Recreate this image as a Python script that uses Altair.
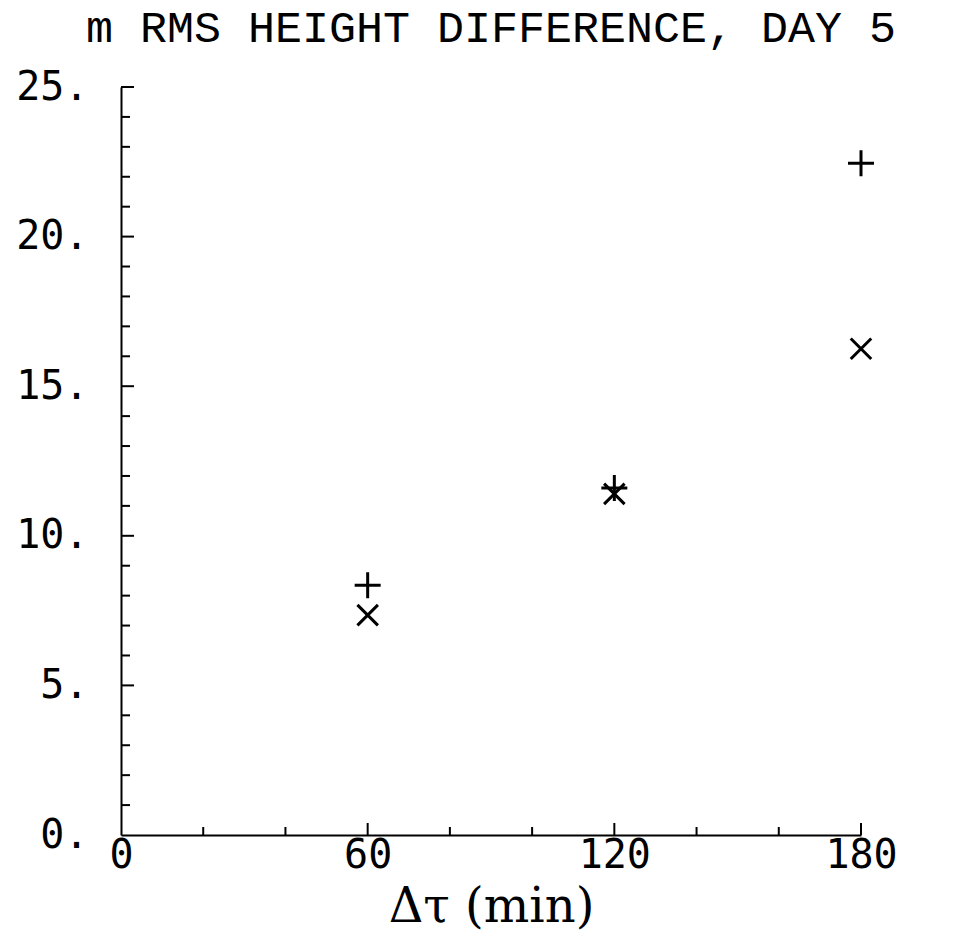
import altair as alt
import pandas as pd

# ---- data ----
dt_min = [60, 120, 180]
rms_plus = [8.35, 11.6, 22.45]
rms_cross = [7.35, 11.4, 16.25]
series_names = ["plus", "cross"]

x_label_values = [0, 60, 120, 180]
x_major_ticks = [60, 120, 180]
x_minor_ticks = [20, 40, 80, 100, 140, 160]
y_label_values = [0, 5, 10, 15, 20, 25]
y_major_ticks = [5, 10, 15, 20, 25]
y_minor_ticks = [1, 2, 3, 4, 6, 7, 8, 9, 11, 12, 13, 14, 16, 17, 18, 19, 21, 22, 23, 24]

TITLE = "m RMS HEIGHT DIFFERENCE, DAY 5"
X_TITLE = "Δτ (min)"

W, H = 740, 748

pts = pd.DataFrame(
    {
        "x": dt_min + dt_min,
        "y": rms_plus + rms_cross,
        "series": [series_names[0]] * 3 + [series_names[1]] * 3,
    }
)

xs = alt.Scale(domain=[0, 180], nice=False, zero=True)
ys = alt.Scale(domain=[0, 25], nice=False, zero=True)

PLUS = "M-1,0L1,0M0,-1L0,1"
CROSS = "M-1,-1L1,1M-1,1L1,-1"

points = (
    alt.Chart(pts)
    .mark_point(filled=False, strokeWidth=3, color="black", opacity=1)
    .encode(
        x=alt.X(
            "x:Q",
            scale=xs,
            axis=alt.Axis(
                values=x_label_values,
                format="d",
                title=X_TITLE,
                titleFont="DejaVu Serif",
                titleFontSize=48,
                titleFontWeight="normal",
                titleColor="black",
                titlePadding=8,
                labelFont="DejaVu Sans Mono",
                labelFontSize=40,
                labelColor="black",
                labelPadding=0,
                ticks=False,
                grid=False,
                domainColor="black",
                domainWidth=2,
                labelFlush=False,
            ),
        ),
        y=alt.Y(
            "y:Q",
            scale=ys,
            axis=alt.Axis(
                values=y_label_values,
                labelExpr="datum.value + '.'",
                title=None,
                labelFont="DejaVu Sans Mono",
                labelFontSize=40,
                labelColor="black",
                labelPadding=33,
                ticks=False,
                grid=False,
                domainColor="black",
                domainWidth=2,
                labelFlush=False,
            ),
        ),
        shape=alt.Shape(
            "series:N",
            scale=alt.Scale(domain=series_names, range=[PLUS, CROSS]),
            legend=None,
        ),
        size=alt.Size(
            "series:N",
            scale=alt.Scale(domain=series_names, range=[676, 420]),
            legend=None,
        ),
    )
)

y_major_df = pd.DataFrame({"y": y_major_ticks})
y_minor_df = pd.DataFrame({"y": y_minor_ticks})
x_major_df = pd.DataFrame({"x": x_major_ticks})
x_minor_df = pd.DataFrame({"x": x_minor_ticks})

y_major_rules = (
    alt.Chart(y_major_df)
    .mark_rule(color="black", strokeWidth=2)
    .encode(y=alt.Y("y:Q", scale=ys), x=alt.value(0), x2=alt.value(13))
)
y_minor_rules = (
    alt.Chart(y_minor_df)
    .mark_rule(color="black", strokeWidth=2)
    .encode(y=alt.Y("y:Q", scale=ys), x=alt.value(0), x2=alt.value(9))
)
x_major_rules = (
    alt.Chart(x_major_df)
    .mark_rule(color="black", strokeWidth=2)
    .encode(x=alt.X("x:Q", scale=xs), y=alt.value(H), y2=alt.value(H - 12))
)
x_minor_rules = (
    alt.Chart(x_minor_df)
    .mark_rule(color="black", strokeWidth=2)
    .encode(x=alt.X("x:Q", scale=xs), y=alt.value(H), y2=alt.value(H - 8))
)

chart = (
    alt.layer(points, y_major_rules, y_minor_rules, x_major_rules, x_minor_rules)
    .properties(
        width=W,
        height=H,
        title=alt.TitleParams(
            TITLE,
            font="Liberation Mono",
            fontSize=45,
            fontWeight="normal",
            color="black",
            anchor="middle",
            offset=16,
        ),
        autosize=alt.AutoSizeParams(type="none"),
        padding={"left": 121, "top": 87, "right": 103, "bottom": 99},
        background="white",
    )
    .configure_view(stroke=None)
)

chart.save("out.html", embed_options={"renderer": "svg", "actions": False})
